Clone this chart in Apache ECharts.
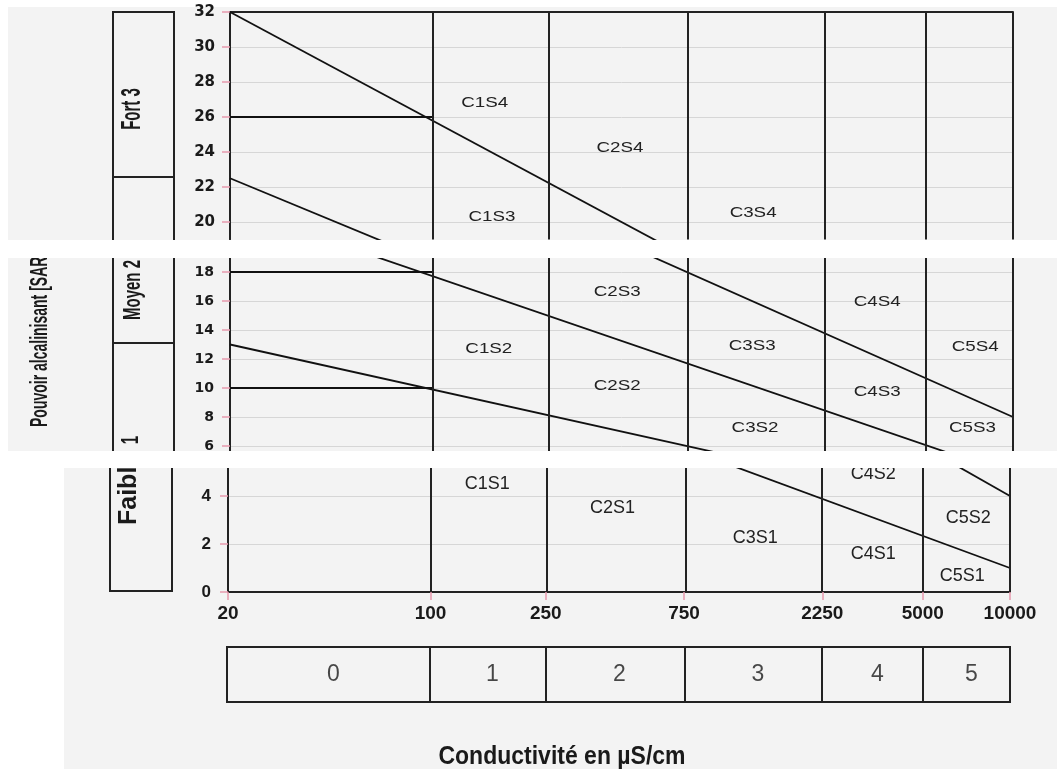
<!DOCTYPE html>
<html>
<head>
<meta charset="utf-8">
<script src="https://cdn.jsdelivr.net/npm/echarts@6/dist/echarts.min.js"></script>
<style>
html, body { margin: 0; padding: 0; background: #ffffff; }
#chart { width: 1057px; height: 769px; }
</style>
</head>
<body>
<div id="chart"></div>
<script>
// ---------- DATA ----------
const conductivityTicks = [20, 100, 250, 750, 2250, 5000, 10000];
const conductivityClasses = ['0', '1', '2', '3', '4', '5'];
const sarTicksTop = [20, 22, 24, 26, 28, 30, 32];
const sarTicksMid = [6, 8, 10, 12, 14, 16, 18];
const sarTicksLow = [0, 2, 4];
const lineS3S4 = [[20, 32], [10000, 8]];
const lineS2S3 = [[20, 22.5], [10000, 4]];
const lineS1S2 = [[20, 13], [10000, 1]];
const shelfS4 = [[20, 26], [100, 26]];
const shelfS3 = [[20, 18], [100, 18]];
const shelfS2 = [[20, 10], [100, 10]];
const zoneNames = ['C1S4', 'C2S4', 'C1S3', 'C3S4', 'C2S3', 'C1S2', 'C2S2', 'C3S3', 'C4S4', 'C5S4',
                   'C4S3', 'C3S2', 'C5S3', 'C4S2', 'C1S1', 'C2S1', 'C3S1', 'C4S1', 'C5S2', 'C5S1'];
const zoneCond = [151, 442, 160, 1271, 432, 156, 432, 1262, 3404, 7413,
                  3404, 1291, 7244, 3373, 157, 425, 1321, 3373, 7178, 6839];
const zoneSar = [26.8, 24.2, 20.3, 20.5, 16.6, 12.7, 10.1, 12.9, 15.9, 12.8,
                 9.7, 7.2, 7.2, 4.9, 4.5, 3.5, 2.25, 1.6, 3.1, 0.67];
const sarClassLabels = ['Fort 3', 'Moyen 2', '1', 'Faible'];
const yTitle = 'Pouvoir alcalinisant [SAR]';
const xTitle = 'Conductivité en µS/cm';

// ---------- LAYOUT ----------
const LOG = Math.log10;
const xMin = LOG(conductivityTicks[0]);
const xMax = LOG(conductivityTicks[conductivityTicks.length - 1]);
const xTickVals = conductivityTicks.map(LOG);
const SANS = '"Liberation Sans", Arial, sans-serif';
const WIDE = '"DejaVu Sans", "Liberation Sans", sans-serif';
const strips = [
  { top: 12, height: 227.5, left: 230, width: 783, min: 19, max: 32, ticks: sarTicksTop,
    labFont: WIDE, labSize: 15, labMargin: 15, zoneSize: 14, zoneScale: 1.34 },
  { top: 257.5, height: 194.3, left: 230, width: 783, min: 5.6, max: 19, ticks: sarTicksMid,
    labFont: WIDE, labSize: 14, labMargin: 16, zoneSize: 14, zoneScale: 1.34 },
  { top: 468, height: 124, left: 228, width: 782, min: 0, max: 124 / 24, ticks: sarTicksLow,
    labFont: SANS, labSize: 17, labMargin: 17, zoneSize: 18, zoneScale: 1 }
];
const classBox = { top: 647, height: 55, left: 227, width: 783 };
const INK = '#1a1a1a';
const TICK = '#e89aae';

const chart = echarts.init(document.getElementById('chart'), null, { renderer: 'canvas' });

const grids = strips.map(s => ({ left: s.left, top: s.top, width: s.width, height: s.height }));
grids.push({ left: classBox.left, top: classBox.top, width: classBox.width, height: classBox.height,
             show: true, borderColor: '#222', borderWidth: 2, backgroundColor: 'transparent' });

const xAxes = strips.map((s, i) => ({
  type: 'value', gridIndex: i, min: xMin, max: xMax,
  position: i === 0 ? 'top' : 'bottom',
  axisLine: { show: i !== 1, onZero: false, lineStyle: { color: '#222', width: 2 } },
  axisTick: { show: i === 2, customValues: xTickVals, length: 8, lineStyle: { color: TICK, width: 1.5 } },
  axisLabel: { show: i === 2, customValues: xTickVals, margin: 12,
    formatter: v => String(Math.round(Math.pow(10, v))),
    fontFamily: SANS, fontWeight: 'bold', fontSize: 19, color: INK },
  splitLine: { show: false }
}));
xAxes.push({ type: 'value', gridIndex: 3, min: xMin, max: xMax, show: false });

const yAxes = strips.map((s, i) => ({
  type: 'value', gridIndex: i, min: s.min, max: s.max,
  axisLine: { show: true, onZero: false, lineStyle: { color: '#222', width: 2 } },
  axisTick: { show: true, customValues: s.ticks, length: 8, lineStyle: { color: TICK, width: 1.5 } },
  axisLabel: { customValues: s.ticks, margin: s.labMargin, fontFamily: s.labFont,
    fontWeight: 'bold', fontSize: s.labSize, color: INK },
  splitLine: { show: true, lineStyle: { color: '#d6d6d6', width: 1 } }
}));
yAxes.push({ type: 'value', gridIndex: 3, min: 0, max: 1, show: false });

const boundaryLines = [lineS3S4, lineS2S3, lineS1S2, shelfS4, shelfS3, shelfS2];
const series = [];
strips.forEach((s, i) => {
  boundaryLines.forEach((ln, k) => {
    const ser = {
      type: 'line', xAxisIndex: i, yAxisIndex: i, silent: true, animation: false,
      symbol: 'none', clip: true,
      data: ln.map(p => [LOG(p[0]), p[1]]),
      lineStyle: { color: '#111', width: 1.8 }
    };
    if (k === 0) {
      ser.markLine = {
        silent: true, animation: false, symbol: ['none', 'none'], label: { show: false },
        lineStyle: { color: '#222', width: 2, type: 'solid' },
        emphasis: { disabled: true },
        data: conductivityTicks.slice(1).map(c => ({ xAxis: LOG(c) }))
      };
    }
    series.push(ser);
  });
});
series.push({
  type: 'scatter', xAxisIndex: 3, yAxisIndex: 3, silent: true, animation: false,
  symbolSize: 0,
  data: conductivityClasses.map((c, k) => [(LOG(conductivityTicks[k]) + LOG(conductivityTicks[k + 1])) / 2, 0.5, c]),
  label: { show: true, position: 'inside', formatter: p => p.data[2],
    fontFamily: SANS, fontSize: 23, color: INK, offset: [5, 0] },
  markLine: {
    silent: true, animation: false, symbol: ['none', 'none'], label: { show: false },
    lineStyle: { color: '#222', width: 2, type: 'solid' },
    data: conductivityTicks.slice(1, -1).map(c => ({ xAxis: LOG(c) }))
  }
});

chart.setOption({
  animation: false,
  backgroundColor: '#ffffff',
  grid: grids,
  xAxis: xAxes,
  yAxis: yAxes,
  series: series
});

// ---------- ANNOTATIONS (positions via the chart's own scales) ----------
const g = [];
g.push({ type: 'rect', silent: true, z: -10, shape: { x: 8, y: 7, width: 1049, height: 233 }, style: { fill: '#f3f3f3' } });
g.push({ type: 'rect', silent: true, z: -10, shape: { x: 8, y: 258, width: 1049, height: 193 }, style: { fill: '#f3f3f3' } });
g.push({ type: 'rect', silent: true, z: -10, shape: { x: 64, y: 468, width: 993, height: 301 }, style: { fill: '#f3f3f3' } });

zoneNames.forEach((name, k) => {
  const sar = zoneSar[k];
  const idx = strips.findIndex(s => sar >= s.min && sar <= s.max);
  if (idx < 0) return;
  const s = strips[idx];
  const p = chart.convertToPixel({ gridIndex: idx }, [LOG(zoneCond[k]), sar]);
  g.push({ type: 'text', silent: true, z: 5, x: p[0], y: p[1], scaleX: s.zoneScale,
    style: { text: name, fontFamily: SANS, fontSize: s.zoneSize, fill: '#222',
             align: 'center', verticalAlign: 'middle', textAlign: 'center', textVerticalAlign: 'middle' } });
});

const boxStyle = { stroke: '#222', lineWidth: 2, fill: null };
g.push({ type: 'polyline', silent: true, z: 5, shape: { points: [[113, 258], [113, 12], [174, 12], [174, 258]] }, style: boxStyle });
g.push({ type: 'line', silent: true, z: 5, shape: { x1: 113, y1: 177, x2: 174, y2: 177 }, style: boxStyle });
g.push({ type: 'polyline', silent: true, z: 5, shape: { points: [[113, 240], [113, 468]] }, style: boxStyle });
g.push({ type: 'polyline', silent: true, z: 5, shape: { points: [[174, 240], [174, 468]] }, style: boxStyle });
g.push({ type: 'line', silent: true, z: 5, shape: { x1: 113, y1: 343, x2: 174, y2: 343 }, style: boxStyle });
g.push({ type: 'polyline', silent: true, z: 5, shape: { points: [[110, 451], [110, 591], [172, 591], [172, 451]] }, style: boxStyle });

function vtext(text, x, y, size, sy, align) {
  return { type: 'text', silent: true, z: 5, x: x, y: y, rotation: Math.PI / 2, scaleY: sy,
    style: { text: text, fontFamily: SANS, fontWeight: 'bold', fontSize: size, fill: INK,
      align: align, textAlign: align, verticalAlign: 'middle', textVerticalAlign: 'middle' } };
}
g.push(vtext(sarClassLabels[0], 133, 109, 15, 1.8, 'center'));
g.push(vtext(sarClassLabels[1], 133, 290, 15, 1.6, 'center'));
g.push(vtext(sarClassLabels[2], 131, 440, 15, 1.6, 'center'));
g.push(vtext(sarClassLabels[3], 129, 525, 25, 1, 'left'));
g.push(vtext(yTitle, 40, 427, 14, 1.75, 'left'));

g.push({ type: 'text', silent: true, z: 5, x: 562, y: 757, scaleY: 1.1,
  style: { text: xTitle, fontFamily: SANS, fontWeight: 'bold', fontSize: 23, fill: INK,
    align: 'center', textAlign: 'center', verticalAlign: 'middle', textVerticalAlign: 'middle' } });

g.push({ type: 'rect', silent: true, z: 100, shape: { x: 0, y: 240, width: 1057, height: 18 }, style: { fill: '#ffffff' } });
g.push({ type: 'rect', silent: true, z: 100, shape: { x: 0, y: 451, width: 1057, height: 17 }, style: { fill: '#ffffff' } });

chart.setOption({ graphic: { elements: g } });
</script>
</body>
</html>
